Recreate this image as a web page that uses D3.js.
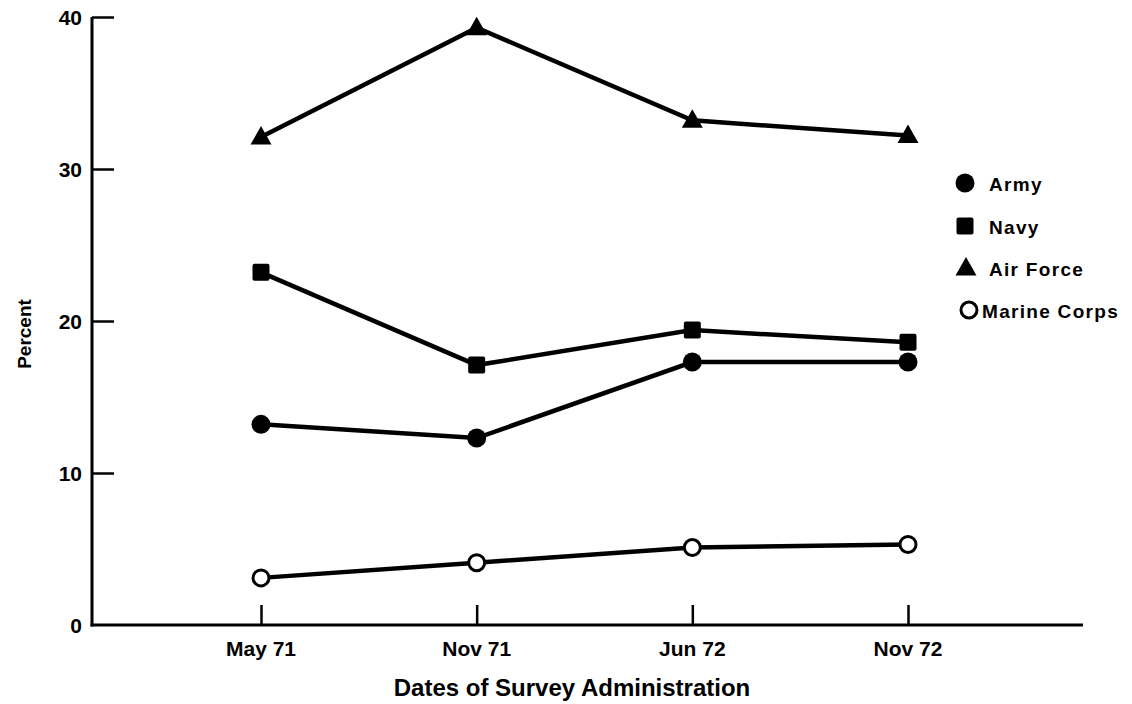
<!DOCTYPE html>
<html><head><meta charset="utf-8">
<script src="https://cdn.jsdelivr.net/npm/d3@7"></script>
<style>body{margin:0;background:#fff}svg{display:block}text{font-family:"Liberation Sans",Arial,sans-serif;font-weight:bold;fill:#000}</style>
</head><body>
<svg id="c" width="1132" height="704"></svg>
<script>
const categories = ["May 71","Nov 71","Jun 72","Nov 72"];
const yTicks = [0,10,20,30,40];
const army = [13.2,12.3,17.3,17.3];
const navy = [23.2,17.1,19.4,18.6];
const airForce = [32.1,39.3,33.2,32.2];
const marine = [3.1,4.1,5.1,5.3];
const seriesNames = ["Army","Navy","Air Force","Marine Corps"];
const seriesData = [army,navy,airForce,marine];
const seriesSym = ["circle","square","triangle","open"];

const svg = d3.select("#c");
const x0 = 92, x1 = 1083, yTop = 17, yBot = 625;
const x = d3.scalePoint().domain(categories).range([261, 908]);
const y = d3.scaleLinear().domain([0,40]).range([yBot, yTop]);

// axes lines
svg.append("line").attr("x1",x0).attr("x2",x0).attr("y1",yTop).attr("y2",yBot+1.5).attr("stroke","#000").attr("stroke-width",3);
svg.append("line").attr("x1",x0-1.5).attr("x2",x1).attr("y1",yBot).attr("y2",yBot).attr("stroke","#000").attr("stroke-width",3);

// y ticks
const yAxis = d3.axisRight(y).tickValues(yTicks).tickSize(22).tickFormat("");
const gy = svg.append("g").attr("transform",`translate(${x0},0)`).call(yAxis);
gy.select(".domain").remove();
gy.selectAll(".tick line").attr("stroke","#000").attr("stroke-width",2.5).attr("x2",d=>d===0?0:22);
svg.selectAll(".ylab").data(yTicks).enter().append("text")
  .attr("x",x0-10).attr("y",d=>y(d)+8).attr("text-anchor","end").attr("font-size",21).text(d=>d);

// x ticks
const xAxis = d3.axisTop(x).tickSize(20).tickFormat("");
const gx = svg.append("g").attr("transform",`translate(0,${yBot})`).call(xAxis);
gx.select(".domain").remove();
gx.selectAll(".tick line").attr("stroke","#000").attr("stroke-width",2.5);
svg.selectAll(".xlab").data(categories).enter().append("text")
  .attr("x",d=>x(d)).attr("y",656).attr("text-anchor","middle").attr("font-size",21).text(d=>d);

// titles
svg.append("text").attr("x",572).attr("y",696).attr("text-anchor","middle").attr("font-size",24).text("Dates of Survey Administration");
svg.append("text").attr("transform","translate(31,334) rotate(-90)").attr("text-anchor","middle").attr("font-size",19).text("Percent");

const line = d3.line().x((d,i)=>x(categories[i])).y(d=>y(d));
function drawSym(g, sym, cx, cy){
  if(sym==="circle") g.append("circle").attr("cx",cx).attr("cy",cy).attr("r",9.5).attr("fill","#000");
  else if(sym==="square") g.append("rect").attr("x",cx-8.5).attr("y",cy-8.5).attr("width",17).attr("height",17).attr("rx",2).attr("fill","#000");
  else if(sym==="triangle") g.append("path").attr("d",`M${cx},${cy-11}L${cx+10.5},${cy+7.5}L${cx-10.5},${cy+7.5}Z`).attr("fill","#000");
  else g.append("circle").attr("cx",cx).attr("cy",cy).attr("r",8).attr("fill","#fff").attr("stroke","#000").attr("stroke-width",3);
}
seriesData.forEach((vals,k)=>{
  const g = svg.append("g");
  g.append("path").datum(vals).attr("d",line).attr("fill","none").attr("stroke","#000").attr("stroke-width",4.5);
  vals.forEach((v,i)=>drawSym(g, seriesSym[k], x(categories[i]), y(v)));
});

// legend
const legY = [183,226,268,310];
const legX = [965,965,966,969];
seriesNames.forEach((n,k)=>{
  const g = svg.append("g");
  drawSym(g, seriesSym[k], legX[k], legY[k]);
  g.append("text").attr("x", k===3?982:989).attr("y",legY[k]+8).attr("font-size",19).attr("letter-spacing",1.3).text(n);
});
</script>
</body></html>
